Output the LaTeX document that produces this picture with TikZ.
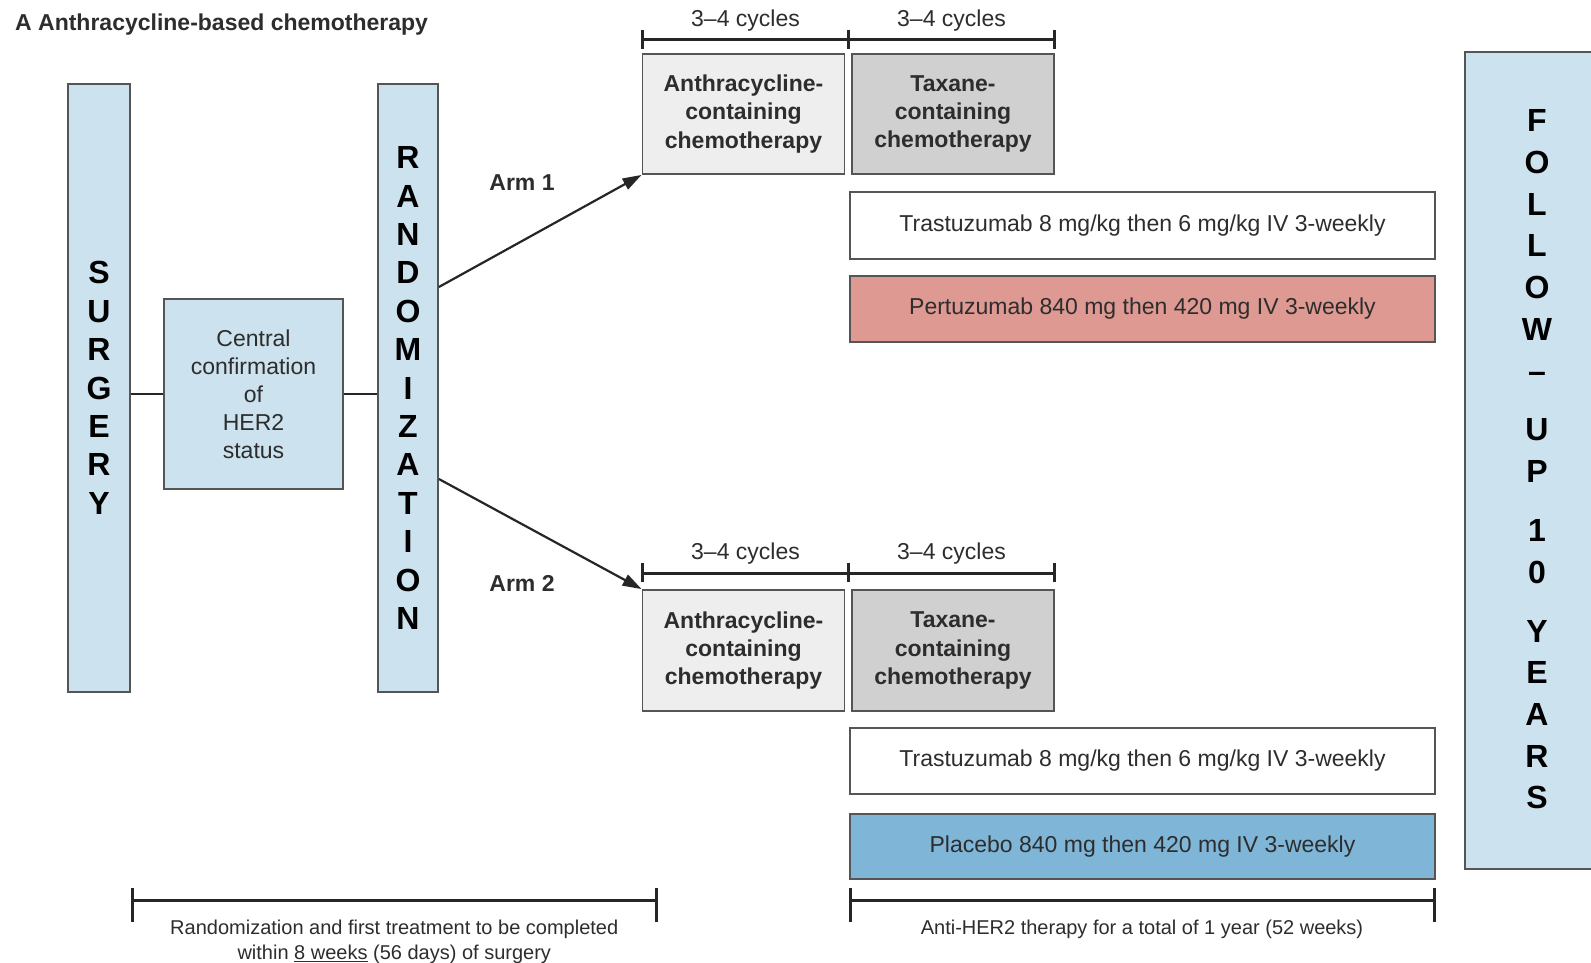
\documentclass[tikz,border=0pt]{standalone}
\usepackage{fontspec}
\setmainfont{Liberation Sans}
\usetikzlibrary{arrows.meta,calc}
\definecolor{lblue}{RGB}{204,226,238}
\definecolor{boxline}{RGB}{85,85,85}
\definecolor{greyA}{RGB}{238,238,238}
\definecolor{greyB}{RGB}{208,208,208}
\definecolor{salmon}{RGB}{221,153,146}
\definecolor{pblue}{RGB}{127,182,216}
\definecolor{txt}{RGB}{45,45,45}
\begin{document}
\begin{tikzpicture}[x=1pt,y=-1pt,
  box/.style={draw=boxline, line width=1.8pt, inner sep=0pt, text=txt, align=center},
  reg/.style={font=\fontsize{23}{28}\selectfont},
  bld/.style={font=\fontsize{23}{28.2}\selectfont\bfseries},
  big/.style={font=\fontsize{32}{38.4}\selectfont\bfseries, text=black, align=center},
  conn/.style={line width=2.2pt, draw=black!85},
  arr/.style={line width=2.2pt, draw=black!85, -{Triangle[length=19pt,width=12pt]}},
  brk/.style={line width=3pt, draw=black!85},
  note/.style={font=\fontsize{20}{25}\selectfont, text=txt, align=center}]
\useasboundingbox (0,0) rectangle (1591,963);
\fill[white] (0,0) rectangle (1591,963);

% title
\node[anchor=west, font=\fontsize{23}{28}\selectfont\bfseries, text=txt, inner sep=0pt] (title) at (15,25) {A Anthracycline-based chemotherapy};

% left column
\node[box, fill=lblue, minimum width=62, minimum height=608, big] (surg) at (99,388) {S\\U\\R\\G\\E\\R\\Y};
\node[box, fill=lblue, minimum width=179, minimum height=190, reg] (cent) at (253.5,394) {Central\\confirmation\\of\\HER2\\status};
\node[box, fill=lblue, minimum width=60, minimum height=608, big] (rand) at (408,388) {R\\A\\N\\D\\O\\M\\I\\Z\\A\\T\\I\\O\\N};

\draw[conn] (surg.east |- cent.west) -- (cent.west);
\draw[conn] (cent.east) -- (rand.west |- cent.east);

% arm 1
\node[box, fill=greyA, minimum width=202, minimum height=120, bld] (anth1) at (743.5,114) {Anthracycline-\\containing\\chemotherapy};
\node[box, fill=greyB, minimum width=202, minimum height=120, bld] (tax1) at (953,114) {Taxane-\\containing\\chemotherapy};
\node[box, fill=white, minimum width=585, minimum height=67, reg] (tra1) at (1142.5,225.5) {Trastuzumab 8 mg/kg then 6 mg/kg IV 3-weekly};
\node[box, fill=salmon, minimum width=585, minimum height=66, reg] (per) at (1142.5,309) {Pertuzumab 840 mg then 420 mg IV 3-weekly};

% arm 2
\node[box, fill=greyA, minimum width=202, minimum height=121, bld] (anth2) at (743.5,650.5) {Anthracycline-\\containing\\chemotherapy};
\node[box, fill=greyB, minimum width=202, minimum height=121, bld] (tax2) at (953,650.5) {Taxane-\\containing\\chemotherapy};
\node[box, fill=white, minimum width=585, minimum height=66, reg] (tra2) at (1142.5,761) {Trastuzumab 8 mg/kg then 6 mg/kg IV 3-weekly};
\node[box, fill=pblue, minimum width=585, minimum height=65, reg] (plc) at (1142.5,846.5) {Placebo 840 mg then 420 mg IV 3-weekly};

% arrows
\draw[arr] ([yshift=101pt]rand.east) -- (anth1.south west);
\draw[arr] ([yshift=-91pt]rand.east) -- (anth2.north west);
\node[font=\fontsize{23}{28}\selectfont\bfseries, text=txt] (arm1) at (522,183) {Arm 1};
\node[font=\fontsize{23}{28}\selectfont\bfseries, text=txt] (arm2) at (522,583) {Arm 2};

% top brackets
\coordinate (ta) at (642.5,40);
\coordinate (tb) at (848.5,40);
\coordinate (tc) at (1054.5,40);
\draw[brk] (ta) -- (tc);
\foreach \p in {ta,tb,tc} \draw[brk] ([yshift=10pt]\p) -- ([yshift=-9pt]\p);
\node[reg, text=txt] (c1) at ($(ta)!0.5!(tb)+(0,-19)$) {3–4 cycles};
\node[reg, text=txt] (c2) at ($(tb)!0.5!(tc)+(0,-19)$) {3–4 cycles};

\coordinate (ba) at (642.5,573);
\coordinate (bb) at (848.5,573);
\coordinate (bc) at (1054.5,573);
\draw[brk] (ba) -- (bc);
\foreach \p in {ba,bb,bc} \draw[brk] ([yshift=10pt]\p) -- ([yshift=-9pt]\p);
\node[reg, text=txt] (c3) at ($(ba)!0.5!(bb)+(0,-19)$) {3–4 cycles};
\node[reg, text=txt] (c4) at ($(bb)!0.5!(bc)+(0,-19)$) {3–4 cycles};

% follow-up
\node[box, fill=lblue, minimum width=140, minimum height=817, anchor=north west] (fubox) at (1464,51) {};
\node[big] (fu) at (1537,459.5) {F\\[3.3pt]O\\[3.3pt]L\\[3.3pt]L\\[3.3pt]O\\[3.3pt]W\\[3.3pt]–\\[20.5pt]U\\[3.3pt]P\\[20.5pt]1\\[3.3pt]0\\[20.5pt]Y\\[3.3pt]E\\[3.3pt]A\\[3.3pt]R\\[3.3pt]S};

% bottom brackets
\coordinate (la) at (132,900);
\coordinate (lb) at (656.5,900);
\draw[brk] (la) -- (lb);
\foreach \p in {la,lb} \draw[brk] ([yshift=12pt]\p) -- ([yshift=-22pt]\p);
\node[note] (n1) at ($(la)!0.5!(lb)+(0,41.5)$) {Randomization and first treatment to be completed\\within \underline{8 weeks} (56 days) of surgery};

\coordinate (ra) at (850,900);
\coordinate (rb) at (1434,900);
\draw[brk] (ra) -- (rb);
\foreach \p in {ra,rb} \draw[brk] ([yshift=12pt]\p) -- ([yshift=-22pt]\p);
\node[note] (n2) at ($(ra)!0.5!(rb)+(0,29)$) {Anti-HER2 therapy for a total of 1 year (52 weeks)};
\end{tikzpicture}
\end{document}
